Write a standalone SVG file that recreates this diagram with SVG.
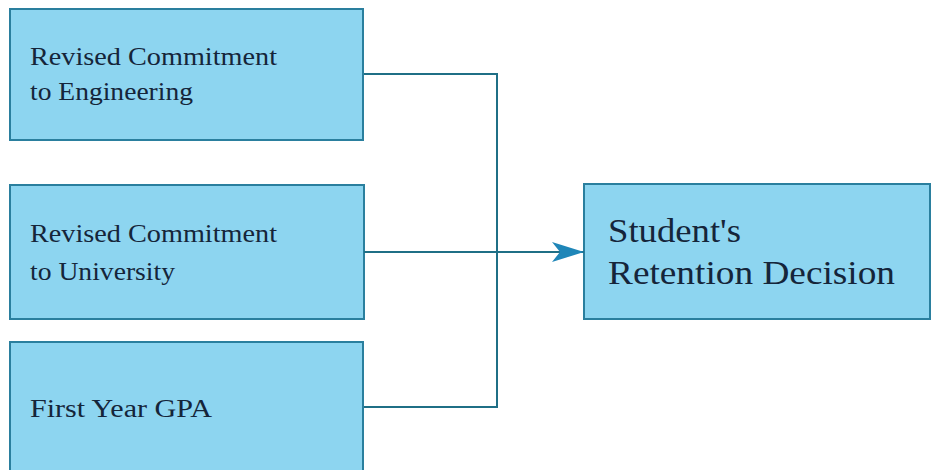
<svg xmlns="http://www.w3.org/2000/svg" width="931" height="470" viewBox="0 0 931 470">
<style>
.box{fill:#8dd5f0;stroke:#2a7f9e;stroke-width:2}
.t{font-family:'Liberation Serif',serif;fill:#15253a}
.s{font-size:26px}
.b{font-size:34px}
.c{fill:none;stroke:#1f6f86;stroke-width:2}
</style>
<defs>
<marker id="arr" viewBox="0 0 32 20" refX="32" refY="10" markerWidth="32" markerHeight="20" markerUnits="userSpaceOnUse" orient="auto">
<path d="M0,0 L32,10 L0,20 L8,10 Z" fill="#1f86b8"/>
</marker>
</defs>
<g id="n1">
<rect class="box" x="10" y="9" width="353" height="131"/>
<text class="t s" x="30" y="65" textLength="247" lengthAdjust="spacingAndGlyphs">Revised Commitment</text>
<text class="t s" x="30" y="100" textLength="163" lengthAdjust="spacingAndGlyphs">to Engineering</text>
</g>
<g id="n2">
<rect class="box" x="10" y="185" width="354" height="134"/>
<text class="t s" x="30" y="242" textLength="247" lengthAdjust="spacingAndGlyphs">Revised Commitment</text>
<text class="t s" x="30" y="280" textLength="145" lengthAdjust="spacingAndGlyphs">to University</text>
</g>
<g id="n3">
<rect class="box" x="10" y="342" width="353" height="140"/>
<text class="t s" x="30" y="417" textLength="182" lengthAdjust="spacingAndGlyphs">First Year GPA</text>
</g>
<g id="n4">
<rect class="box" x="584" y="184" width="346" height="135"/>
<text class="t b" x="608" y="242" textLength="133" lengthAdjust="spacingAndGlyphs">Student's</text>
<text class="t b" x="608" y="284" textLength="287" lengthAdjust="spacingAndGlyphs">Retention Decision</text>
</g>
<g id="connectors">
<path class="c" d="M364,74 H497 V407 H364"/>
<path class="c" d="M364,252 H584" marker-end="url(#arr)"/>
</g>
</svg>
